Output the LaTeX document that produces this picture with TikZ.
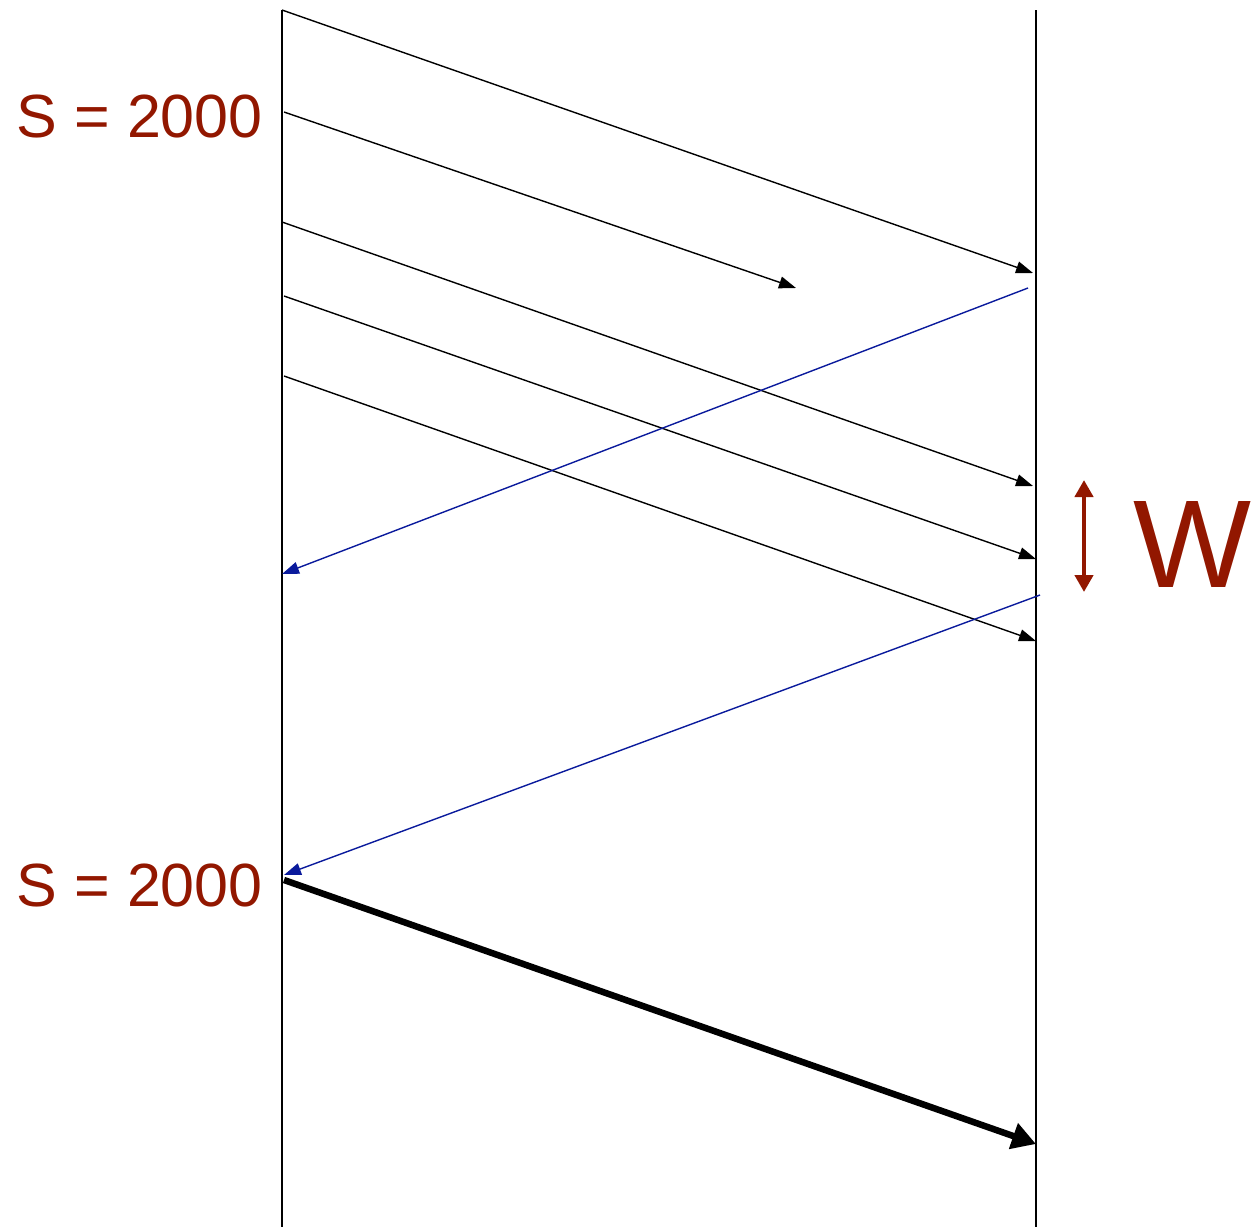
\documentclass[tikz,border=0pt]{standalone}
\usepackage{fontspec}
\setmainfont{Liberation Sans}
\usetikzlibrary{arrows.meta}
\definecolor{dred}{HTML}{921700}
\definecolor{ackblue}{HTML}{0A1A9C}
\tikzset{
  life/.style={line width=1.4pt, black},
  pkt/.style={line width=1.4pt, black, -{Triangle[length=17pt,width=12pt]}},
  ack/.style={line width=1.4pt, ackblue, -{Triangle[length=17pt,width=12pt]}},
  bigpkt/.style={line width=6.5pt, black, -{Triangle[length=24pt,width=26pt]}},
  lbl/.style={text=dred, inner sep=0pt, font=\fontsize{61}{61}\selectfont},
  wbar/.style={line width=4.5pt, dred, {Triangle[length=17pt,width=18pt]}-{Triangle[length=17pt,width=18pt]}}
}
\begin{document}
\begin{tikzpicture}[x=1pt,y=-1pt]
\useasboundingbox (0,0) rectangle (1253,1227);
% lifelines
\coordinate (Ltop) at (282,10);
\coordinate (Lbot) at (282,1227);
\coordinate (Rtop) at (1036,10);
\coordinate (Rbot) at (1036,1227);
\draw[life] (Ltop) -- (Lbot);
\draw[life] (Rtop) -- (Rbot);
% packets
\coordinate (p1s) at (282,10);   \coordinate (p1e) at (1033,273);
\coordinate (p2s) at (284,112);  \coordinate (p2e) at (796,288);
\coordinate (p3s) at (282,222);  \coordinate (p3e) at (1033,486);
\coordinate (p4s) at (284,296);  \coordinate (p4e) at (1036,559);
\coordinate (p5s) at (284,376);  \coordinate (p5e) at (1036,641);
\draw[pkt] (p1s) -- (p1e);
\draw[pkt] (p2s) -- (p2e);
\draw[pkt] (p3s) -- (p3e);
\draw[pkt] (p4s) -- (p4e);
\draw[pkt] (p5s) -- (p5e);
% acks
\coordinate (a1s) at (1028,288); \coordinate (a1e) at (282,574);
\coordinate (a2s) at (1040,595); \coordinate (a2e) at (284,875);
\draw[ack] (a1s) -- (a1e);
\draw[ack] (a2s) -- (a2e);
% retransmission
\coordinate (rs) at (284,880); \coordinate (re) at (1036,1144);
\draw[bigpkt] (rs) -- (re);
% window
\coordinate (wt) at (1084,480); \coordinate (wb) at (1084,592);
\draw[wbar] (wt) -- (wb);
\node[text=dred, inner sep=0pt, anchor=base west, font=\fontsize{125}{125}\selectfont] (W) at (1133,587) {W};
% labels
\node[lbl, anchor=base east] (S1) at (263,137) {S = 2000};
\node[lbl, anchor=base east] (S2) at (263,906) {S = 2000};
\end{tikzpicture}
\end{document}
